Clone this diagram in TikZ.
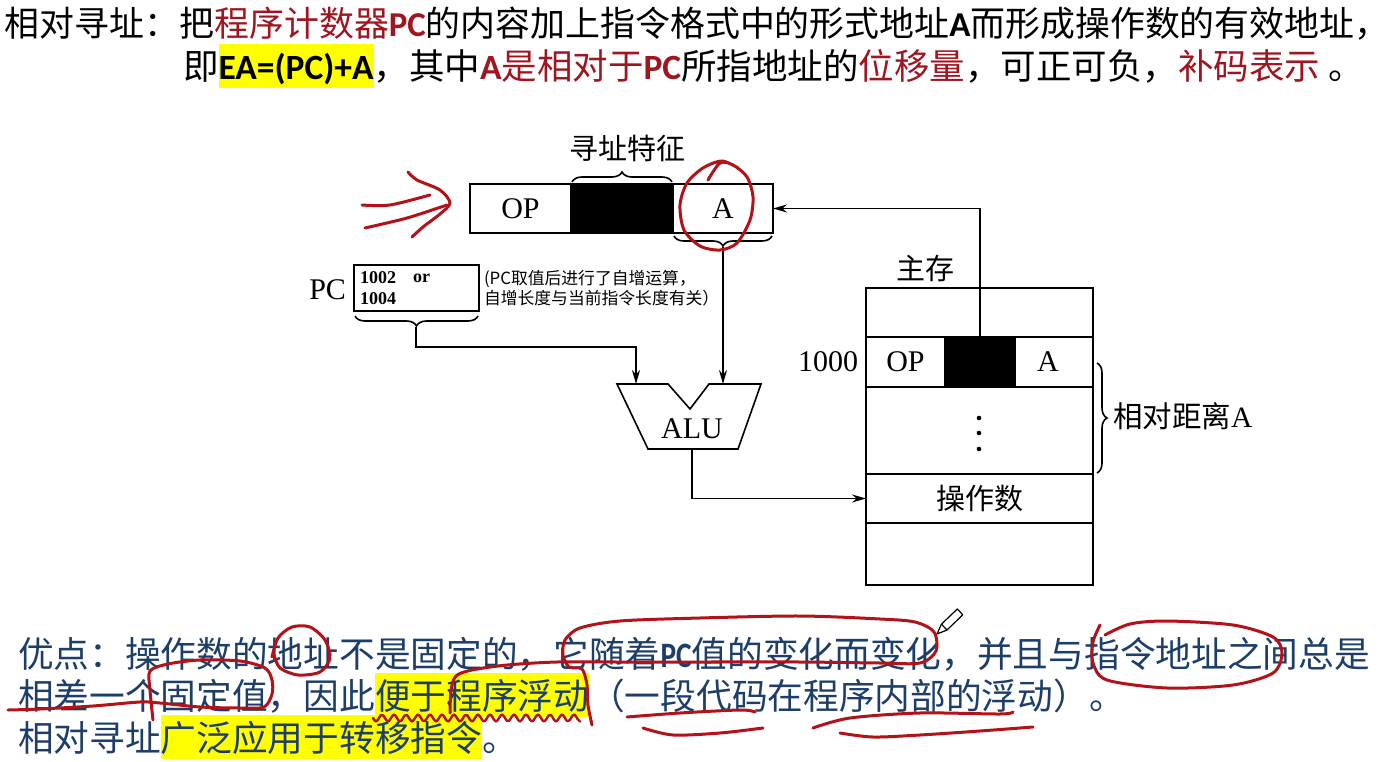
\documentclass[tikz,border=0pt]{standalone}
\usepackage{fontspec}
\usepackage{graphicx}
\usetikzlibrary{decorations.pathreplacing,arrows.meta}
\newfontfamily\cjkf{Noto Sans CJK SC}
\newfontfamily\dserif{Liberation Serif}
\newfontfamily\latf{Carlito}
\definecolor{tred}{RGB}{160,22,32}
\definecolor{tblue}{RGB}{28,62,104}
\definecolor{hly}{RGB}{255,255,0}
\definecolor{inkred}{RGB}{178,18,24}
\newcommand\hlbox[1]{{\setlength{\fboxsep}{0pt}\colorbox{hly}{\rule[-8pt]{0pt}{44pt}#1}}}
\newcommand\lstrut{\rule[-8pt]{0pt}{44pt}}
\newcommand\lb[1]{{\latf\bfseries #1}}
\begin{document}
\begin{tikzpicture}[x=1pt,y=-1pt,
  every node/.style={inner sep=0pt,outer sep=0pt},
  dtxt/.style={font=\dserif\fontsize{30}{32}\selectfont},
  ctxt/.style={font=\cjkf\fontsize{29}{32}\selectfont},
  bigA/.style={font=\cjkf\fontsize{34.9}{40}\selectfont,anchor=west},
  bigB/.style={font=\cjkf\fontsize{35.5}{40}\selectfont,anchor=west},
  bigC/.style={font=\cjkf\fontsize{35.7}{40}\selectfont,anchor=west,text=tblue},
  ln/.style={line width=1.6pt},
  arr/.style={line width=1.6pt,-{Stealth[length=14pt,width=8pt]}},
  brc/.style={line width=1.6pt,decorate,decoration={brace,amplitude=10pt}},
  ink/.style={draw=inkred,line width=3pt,line cap=round,line join=round},
]
\fill[white] (0,0) rectangle (1394,762);
\useasboundingbox (0,0) rectangle (1394,762);

% ---------- top text ----------
\node[bigA] (t1) at (5,23) {\lstrut 相对寻址：把\textcolor{tred}{程序计数器\lb{PC}}的内容加上指令格式中的形式地址\lb{A}而形成操作数的有效地址，};
\node[bigB] (t2) at (183,66) {\lstrut 即\hlbox{\lb{EA=(PC)+A}}，其中\textcolor{tred}{\lb{A}是相对于\lb{PC}}所指地址的\textcolor{tred}{位移量}，可正可负，\textcolor{tred}{补码表示}\ 。};

% ---------- instruction ----------
\node[draw,ln,minimum width=101pt,minimum height=49pt,dtxt] (opI) at (520.5,208.5) {OP};
\node[draw,ln,fill=black,minimum width=102pt,minimum height=49pt] (blkI) at (622,208.5) {};
\node[draw,ln,minimum width=100pt,minimum height=49pt,dtxt] (aI) at (723,208.5) {A};
\draw[brc] (572,182) -- (672,182);
\node[ctxt] (tz) at (627,148) {寻址特征};
\draw[brc] (772,236) -- (674,236);
\coordinate (aTip) at (723,247);
\coordinate (aluR) at (723,384);
\draw[arr] (aTip) -- (aluR);

% ---------- PC ----------
\node[dtxt,anchor=east] (pcl) at (346,290) {PC};
\node[draw,ln,minimum width=125pt,minimum height=46pt] (pcb) at (416.5,288) {};
\node[anchor=west,font=\dserif\bfseries\fontsize{18}{20}\selectfont] (v1) at (360,278) {1002};
\node[anchor=west,font=\dserif\bfseries\fontsize{18}{20}\selectfont] (v2) at (413,278) {or};
\node[anchor=west,font=\dserif\bfseries\fontsize{18}{20}\selectfont] (v3) at (360,299) {1004};
\node[anchor=west,font=\cjkf\fontsize{16.8}{20}\selectfont,align=left] (note) at (484,288) {(PC取值后进行了自增运算，\\自增长度与当前指令长度有关）};
\draw[brc] (478,316) -- (355,316);
\coordinate (pcTip) at (416,327);
\coordinate (pcBend) at (416,347);
\coordinate (aluL) at (636,384);
\draw[arr] (pcTip) -- (pcBend) -| (aluL);

% ---------- ALU ----------
\draw[ln,line join=miter] (617,384) -- (668,384) -- (690,409) -- (709,384) -- (761,384) -- (738,449) -- (648,449) -- cycle;
\node[dtxt] (alu) at (692,429) {ALU};
\coordinate (aluOut) at (692,449);

% ---------- memory ----------
\node[ctxt] (zc) at (925,268) {主存};
\node[draw,ln,minimum width=227pt,minimum height=49pt] (m0) at (979.5,312.5) {};
\node[draw,ln,minimum width=79pt,minimum height=50pt,dtxt] (mop) at (905.5,362) {OP};
\node[draw,ln,fill=black,minimum width=70pt,minimum height=50pt] (mblk) at (980,362) {};
\node[draw,ln,minimum width=78pt,minimum height=50pt] (ma) at (1054,362) {};
\node[dtxt] (mat) at (1048,362) {A};
\node[draw,ln,minimum width=227pt,minimum height=87pt] (mdots) at (979.5,430.5) {};
\node[draw,ln,minimum width=227pt,minimum height=49pt,ctxt] (mopnd) at (979.5,498.5) {操作数};
\node[draw,ln,minimum width=227pt,minimum height=62pt] (mlast) at (979.5,554) {};
\fill (979,418) circle (2.3) (979,433) circle (2.3) (979,449) circle (2.3);
\node[dtxt,anchor=east] (n1000) at (858,362) {1000};
\draw[brc] (1097,363) -- (1097,473);
\node[anchor=west] (xd) at (1113,416) {\cjkf\fontsize{29.5}{32}\selectfont 相对距离\dserif A};
\draw[arr] (mblk.north) |- (aI.east);
\draw[arr] (aluOut) |- (mopnd.west);

% ---------- bottom text ----------
\node[bigC] (b1) at (18,653) {\lstrut 优点：操作数的地址不是固定的，它随着\scalebox{0.82}[1]{\lb{PC}}值的变化而变化，并且与指令地址之间总是};
\node[bigC] (b2) at (18,695) {\lstrut 相差一个固定值，因此\hlbox{便于程序浮动}（一段代码在程序内部的浮动）。};
\node[bigC] (b3) at (18,737) {\lstrut 相对寻址\hlbox{广泛应用于转移指令}。};

% ---------- red ink annotations ----------
\draw[ink] plot[smooth] coordinates {(362,205) (390,205) (430,195)};
\draw[ink] plot[smooth] coordinates {(365,228) (407,218) (447,205)};
\draw[ink] plot[smooth] coordinates {(408,172) (417,180) (440,190) (450,203) (440,214) (423,227) (412,237)};
\draw[ink] plot[smooth] coordinates {(708,180) (720,163) (733,165) (747,177) (753,197) (750,220) (737,243) (720,250) (700,246) (684,230) (680,205) (687,183) (703,168) (722,161) (738,168)};
\draw[ink] plot[smooth] coordinates {(272,657) (278,638) (292,627) (310,627) (325,640) (330,658) (320,672) (298,675) (280,668) (274,655)};
\draw[ink] plot[smooth] coordinates {(8,710) (40,709) (93,706) (140,702) (160,703) (200,707) (240,708) (264,707) (272,694) (272,680) (265,668) (240,661) (200,660) (168,664) (150,671) (150,690) (153,720)};
\draw[ink,line width=2.4pt] plot[smooth,domain=0:207,samples=80] ({373+\x},{718+3.5*sin(\x*30)});
\draw[ink] plot[smooth] coordinates {(450,713) (451,690) (456,676) (472,670) (507,665) (557,662) (620,662) (700,662) (800,662) (880,663) (920,663) (936,651) (934,632) (915,622) (880,619) (800,616) (700,618) (620,621) (580,628) (565,640) (563,655) (569,667) (582,669) (587,685) (588,705) (592,725)};
\draw[ink] plot[smooth] coordinates {(627,717) (680,713) (740,710) (755,712)};
\draw[ink] plot[smooth] coordinates {(643,728) (673,735) (720,733) (763,728)};
\draw[ink] plot[smooth] coordinates {(813,728) (850,718) (920,713) (1000,714) (1013,712)};
\draw[ink] plot[smooth] coordinates {(840,733) (873,737) (920,735) (980,731) (1033,727)};
\draw[ink] plot[smooth] coordinates {(1100,625) (1093,642) (1093,663) (1107,680) (1167,688) (1233,685) (1273,673) (1282,653) (1273,637) (1233,625) (1167,621) (1130,624) (1105,635)};

% pencil cursor
\draw[line width=1.2pt,fill=white,line join=round] (937,634) -- (947,630) -- (962.8,614.8) -- (957.3,609) -- (941.4,624.2) -- cycle;
\draw[line width=1.2pt] (941.4,624.2) -- (947,630);
\end{tikzpicture}
\end{document}
